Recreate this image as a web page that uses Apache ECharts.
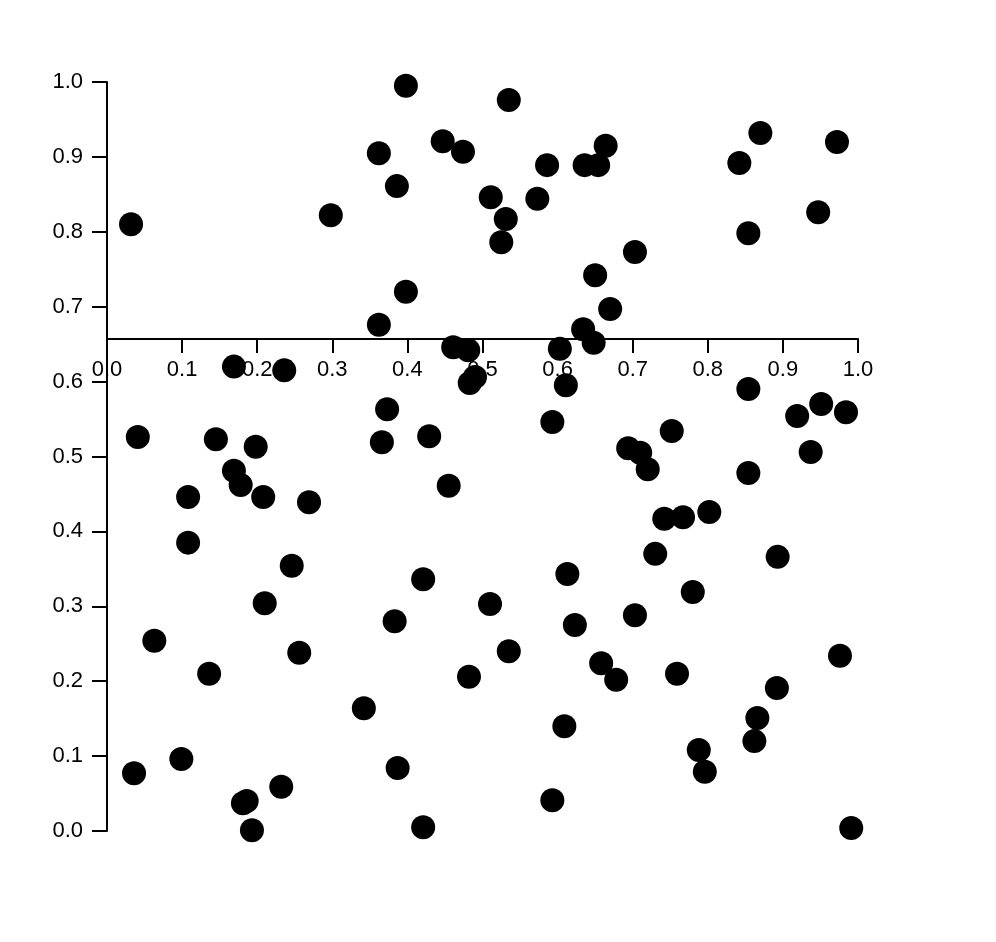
<!DOCTYPE html>
<html>
<head>
<meta charset="utf-8">
<script src="https://cdn.jsdelivr.net/npm/echarts@6/dist/echarts.min.js"></script>
<style>html,body{margin:0;padding:0;background:#fff;}#c{width:996px;height:942px;}</style>
</head>
<body>
<div id="c"></div>
<script>
const xValues = [0.032,0.298,0.398,0.535,0.362,0.447,0.474,0.386,0.511,0.531,0.525,0.573,0.586,0.636,0.654,0.664,0.398,0.362,0.650,0.703,0.670,0.634,0.648,0.603,0.461,0.481,0.842,0.870,0.972,0.854,0.947,
0.169,0.236,0.041,0.145,0.198,0.169,0.178,0.108,0.208,0.269,0.108,0.246,0.490,0.483,0.373,0.366,0.429,0.455,0.593,0.611,
0.854,0.919,0.951,0.984,0.937,0.752,0.694,0.710,0.720,0.854,0.742,0.767,0.802,0.730,0.893,
0.210,0.063,0.136,0.256,0.036,0.099,0.181,0.186,0.232,0.193,
0.421,0.510,0.383,0.535,0.482,0.342,0.387,0.421,0.609,0.593,0.613,0.623,0.658,0.678,
0.780,0.703,0.759,0.976,0.892,0.866,0.862,0.788,0.796,0.991];
const yValues = [0.810,0.822,0.995,0.976,0.905,0.921,0.907,0.861,0.846,0.817,0.786,0.844,0.889,0.889,0.889,0.915,0.720,0.676,0.742,0.773,0.697,0.670,0.652,0.644,0.646,0.642,0.892,0.932,0.920,0.798,0.826,
0.620,0.615,0.526,0.523,0.513,0.481,0.462,0.446,0.446,0.439,0.385,0.354,0.606,0.598,0.563,0.519,0.527,0.461,0.546,0.595,
0.590,0.554,0.570,0.559,0.506,0.534,0.511,0.505,0.483,0.478,0.417,0.419,0.426,0.370,0.366,
0.304,0.254,0.210,0.238,0.077,0.096,0.037,0.040,0.059,0.001,
0.336,0.303,0.280,0.240,0.206,0.164,0.084,0.005,0.140,0.041,0.343,0.275,0.224,0.202,
0.319,0.288,0.210,0.234,0.191,0.151,0.120,0.108,0.079,0.004];
const tickValues = [0,0.1,0.2,0.3,0.4,0.5,0.6,0.7,0.8,0.9,1.0];
const xAxisCrossY = 0.657;

const points = xValues.map((x, i) => [x, yValues[i]]);
const font = 'Liberation Sans, Arial, Helvetica, sans-serif';
const chart = echarts.init(document.getElementById('c'), null, {renderer: 'canvas'});
const labelBase = {color: '#000', fontSize: 22, fontFamily: font, formatter: v => v.toFixed(1)};
const option = {
  backgroundColor: '#fff',
  animation: false,
  grid: {left: 107, right: 138, top: 82, bottom: 111, containLabel: false},
  xAxis: {
    type: 'value', position: 'bottom', offset: 0,
    min: tickValues[0], max: tickValues[tickValues.length - 1], interval: 0.1,
    splitLine: {show: false},
    axisLine: {show: true, onZero: false, lineStyle: {color: '#000', width: 2}},
    axisTick: {show: true, length: 14, lineStyle: {color: '#000', width: 2}},
    axisLabel: Object.assign({}, labelBase, {margin: 20})
  },
  yAxis: {
    type: 'value', position: 'left',
    min: tickValues[0], max: tickValues[tickValues.length - 1], interval: 0.1,
    splitLine: {show: false},
    axisLine: {show: true, lineStyle: {color: '#000', width: 2}},
    axisTick: {show: true, length: 15, lineStyle: {color: '#000', width: 2}},
    axisLabel: Object.assign({}, labelBase, {margin: 24})
  },
  series: [{
    type: 'scatter', data: points, symbol: 'circle', symbolSize: 24,
    itemStyle: {color: '#000', opacity: 1}, z: 5
  }]
};
chart.setOption(option);
const pCross = chart.convertToPixel({yAxisIndex: 0}, xAxisCrossY);
const pZero = chart.convertToPixel({yAxisIndex: 0}, tickValues[0]);
chart.setOption({xAxis: {offset: pCross - pZero}});
</script>
</body>
</html>
